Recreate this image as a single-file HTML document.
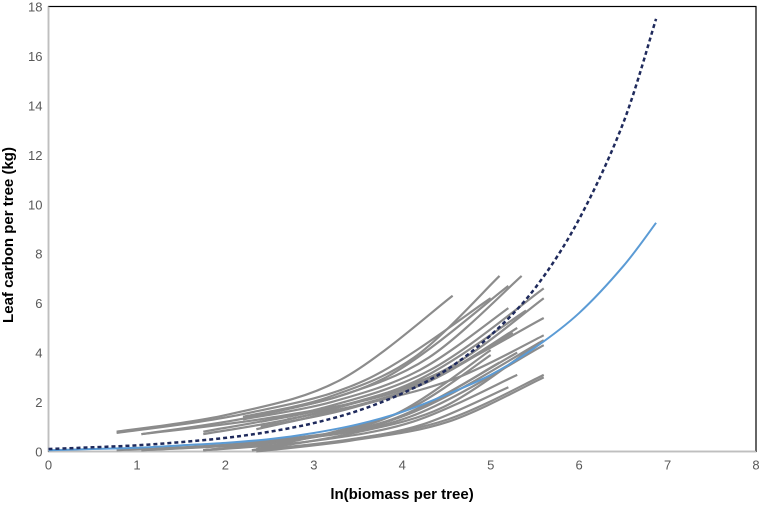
<!DOCTYPE html>
<html><head><meta charset="utf-8"><style>
body{margin:0;background:#fff;width:759px;height:504px;overflow:hidden}
svg{font-family:"Liberation Sans",sans-serif}
</style></head><body>
<svg id="chart" width="759" height="504" viewBox="0 0 759 504"></svg>
<script>
const xTicks=[0,1,2,3,4,5,6,7,8];
const yTicks=[0,2,4,6,8,10,12,14,16,18];
const dashX=[0,0.5,1,1.5,2,2.5,3,3.5,4,4.5,5,5.5,6,6.5,6.87];
const dashY=[0.1,0.17,0.25,0.38,0.55,0.8,1.15,1.65,2.35,3.3,4.7,6.6,9.4,13.3,17.5];
const blueX=[0,0.5,1,1.5,2,2.5,3,3.5,4,4.5,5,5.5,6,6.5,6.87];
const blueY=[0.05,0.1,0.15,0.25,0.35,0.5,0.75,1.1,1.6,2.3,3.1,4.2,5.6,7.5,9.25];
const grayStartX=[0.77,0.77,1.05,2.2,2.2,1.75,1.75,2.4,2.4,2.7,0.77,1.05,1.75,2.35,2.35,1.75,2.3,1.05,2.35,1.75,2.3,2.35,2.2,1.05];
const grayEndX=[4.57,5.0,5.2,5.1,5.35,5.6,5.4,5.6,5.3,5.6,5.6,5.6,5.0,5.6,5.6,5.3,5.2,5.3,5.25,5.1,5.55,5.0,5.2,5.6];
const grayY0=[0.8,0.75,0.7,1.4,1.4,0.8,0.7,1.2,1.0,1.3,0.05,0.05,0.05,0.05,0.0,0.05,0.05,0.05,0.9,0.05,0.05,0.1,1.3,0.7];
const grayY1=[1.5,1.5,1.5,2.2,2.2,1.7,1.5,2.0,1.7,2.0,0.4,0.4,0.5,0.5,0.45,0.4,0.4,0.4,1.7,0.5,0.7,0.8,2.0,1.4];
const grayY2=[2.9,2.9,3.0,3.8,3.8,3.3,2.9,3.4,2.9,3.0,1.4,1.4,1.5,1.3,1.2,1.2,1.1,1.3,2.8,1.4,1.8,1.8,3.3,2.6];
const grayY3=[6.3,6.2,6.7,7.1,7.1,6.6,5.7,6.2,5.0,4.7,4.5,4.3,4.1,3.1,3.0,3.1,2.6,4.0,4.8,3.6,4.4,3.9,5.8,5.4];

const X0=48.5,X1=756,Y0=451.5,Y1=6.5;
const sx=v=>X0+(X1-X0)*v/8, sy=v=>Y0-(Y0-Y1)*v/18;
const svg=document.getElementById('chart');
const NS='http://www.w3.org/2000/svg';
function mk(t,a,p){const e=document.createElementNS(NS,t);for(const k in a)e.setAttribute(k,a[k]);(p||svg).appendChild(e);return e;}

const frame=mk('rect',{x:X0,y:Y1,width:X1-X0,height:Y0-Y1,fill:'none',stroke:'#000','stroke-width':1.2});


const xa=mk('line',{x1:X0,y1:Y0,x2:X1,y2:Y0,stroke:'#bfbfbf','stroke-width':1.5});


const ya=mk('line',{x1:X0,y1:Y0,x2:X0,y2:Y1,stroke:'#bfbfbf','stroke-width':1.5});



xTicks.forEach(v=>{const t=mk('text',{x:sx(v),y:Y0+18,'text-anchor':'middle','font-size':13,fill:'#595959'});t.textContent=v;

});
yTicks.forEach(v=>{const t=mk('text',{x:X0-6,y:sy(v)+5,'text-anchor':'end','font-size':13,fill:'#595959'});t.textContent=v;

});

function smooth(xs,ys){const P=xs.map((x,i)=>[sx(x),sy(ys[i])]);let d=`M${P[0][0]},${P[0][1]}`;
 for(let i=0;i<P.length-1;i++){const p0=P[Math.max(0,i-1)],p1=P[i],p2=P[i+1],p3=P[Math.min(P.length-1,i+2)];
 d+=`C${p1[0]+(p2[0]-p0[0])/6},${p1[1]+(p2[1]-p0[1])/6} ${p2[0]-(p3[0]-p1[0])/6},${p2[1]-(p3[1]-p1[1])/6} ${p2[0]},${p2[1]}`;}return d;}

const g=mk('g',{});


grayStartX.forEach((_,i)=>{
 const a=grayStartX[i],b=grayEndX[i];
 const xs=[a,a+(b-a)/3,a+2*(b-a)/3,b];
 const ys=[grayY0[i],grayY1[i],grayY2[i],grayY3[i]];
 const p=mk('path',{d:smooth(xs,ys),fill:'none',stroke:'#8c8c8c','stroke-width':2.2},g);
 
 
});
const bl=mk('path',{d:smooth(blueX,blueY),fill:'none',stroke:'#5b9bd5','stroke-width':2});


const dl=mk('path',{d:smooth(dashX,dashY),fill:'none',stroke:'#1f2a5c','stroke-width':2.5,'stroke-dasharray':'4 3'});



const xt=mk('text',{x:402,y:499,'text-anchor':'middle','font-size':15,'font-weight':'bold',fill:'#000'});xt.textContent='ln(biomass per tree)';


const yt=mk('text',{x:0,y:0,transform:'translate(13,235) rotate(-90)','text-anchor':'middle','font-size':15,'font-weight':'bold',fill:'#000'});yt.textContent='Leaf carbon per tree (kg)';


</script>
</body></html>
